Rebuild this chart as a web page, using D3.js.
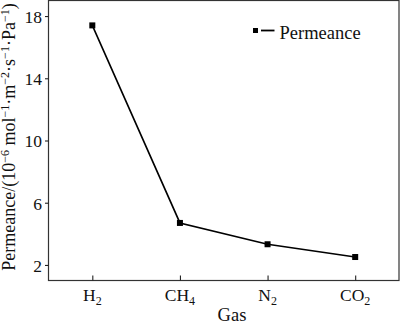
<!DOCTYPE html>
<html>
<head>
<meta charset="utf-8">
<script src="https://cdn.jsdelivr.net/npm/d3@7/dist/d3.min.js"></script>
<style>
  html, body { margin: 0; padding: 0; background: #fff; }
  svg { display: block; font-family: "Liberation Serif", "Times New Roman", serif; }
</style>
</head>
<body>
<svg id="chart" width="400" height="325"></svg>
<script>
// Gas permeance data
const gases = ["H2", "CH4", "N2", "CO2"];
const gasLabels = [["H", "2"], ["CH", "4"], ["N", "2"], ["CO", "2"]];
const permeance = [17.4, 4.7, 3.33, 2.51];
const yTicks = [2, 6, 10, 14, 18];
const seriesName = "Permeance";

const svg = d3.select("#chart");
const plotL = 48.5, plotR = 399, plotT = 0.5, plotB = 280.5;

const x = d3.scalePoint().domain(gases).range([plotL, plotR]).padding(0.5);
const y = d3.scaleLinear().domain([1, 19]).range([plotB, plotT]);

// frame
svg.append("rect")
  .attr("x", plotL).attr("y", plotT)
  .attr("width", plotR - plotL).attr("height", plotB - plotT)
  .attr("fill", "none").attr("stroke", "#333").attr("stroke-width", 1.2);

// y axis: outward ticks
const yAxis = svg.append("g")
  .attr("transform", `translate(${plotL},0)`)
  .call(d3.axisLeft(y).tickValues(yTicks).tickSize(3.5).tickPadding(3).tickFormat(d3.format("d")));
yAxis.select(".domain").remove();
yAxis.selectAll("line").attr("stroke", "#222").attr("stroke-width", 1.1);
yAxis.selectAll("text")
  .attr("font-size", 17.5).attr("fill", "#111")
  .attr("font-family", "Liberation Serif, serif")
  .attr("dy", "0.36em");

// x axis: inward ticks
const xAxis = svg.append("g")
  .attr("transform", `translate(0,${plotB})`)
  .call(d3.axisBottom(x).tickSize(-5).tickFormat(""));
xAxis.select(".domain").remove();
xAxis.selectAll("line").attr("stroke", "#222").attr("stroke-width", 1.1);

// x tick labels with subscripts
gases.forEach((g, i) => {
  const t = svg.append("text")
    .attr("x", x(g)).attr("y", 301)
    .attr("text-anchor", "middle")
    .attr("font-size", 17.5).attr("fill", "#111");
  t.append("tspan").text(gasLabels[i][0]);
  t.append("tspan").attr("font-size", 12).attr("dy", 4).text(gasLabels[i][1]);
});

// x axis title
svg.append("text")
  .attr("x", 232).attr("y", 321)
  .attr("text-anchor", "middle")
  .attr("font-size", 18.5).attr("fill", "#111")
  .text("Gas");

// y axis title with superscripts
const yt = svg.append("text")
  .attr("transform", `translate(15,137) rotate(-90)`)
  .attr("text-anchor", "middle")
  .attr("font-size", 18).attr("fill", "#111");
const parts = [
  ["Permeance/(10", 0], ["−6", 1], [" mol", 0], ["−1", 1], ["·m", 0], ["−2", 1],
  ["·s", 0], ["−1", 1], ["·Pa", 0], ["−1", 1], [")", 0]
];
let prevSup = 0;
parts.forEach(([s, sup]) => {
  const ts = yt.append("tspan").text(s);
  const shift = (sup ? -6 : 0) - (prevSup ? -6 : 0);
  if (shift !== 0) ts.attr("dy", shift);
  if (sup) ts.attr("font-size", 12);
  prevSup = sup;
});

// series line
const line = d3.line().x((d, i) => x(gases[i])).y(d => y(d));
svg.append("path")
  .datum(permeance)
  .attr("d", line)
  .attr("fill", "none").attr("stroke", "#000").attr("stroke-width", 1.6);

// markers
const ms = 6;
svg.selectAll("rect.pt")
  .data(permeance)
  .enter().append("rect")
  .attr("class", "pt")
  .attr("x", (d, i) => x(gases[i]) - ms / 2)
  .attr("y", d => y(d) - ms / 2)
  .attr("width", ms).attr("height", ms)
  .attr("fill", "#000");

// legend
const lg = svg.append("g").attr("transform", "translate(255.5,30.5)");
lg.append("rect").attr("x", -2.5).attr("y", -2.5).attr("width", 5).attr("height", 5).attr("fill", "#000");
lg.append("line").attr("x1", 5.5).attr("x2", 19).attr("y1", 0).attr("y2", 0)
  .attr("stroke", "#000").attr("stroke-width", 1.8);
lg.append("text").attr("x", 24).attr("y", 8.5)
  .attr("font-size", 18.5).attr("fill", "#111").text(seriesName);
</script>
</body>
</html>
